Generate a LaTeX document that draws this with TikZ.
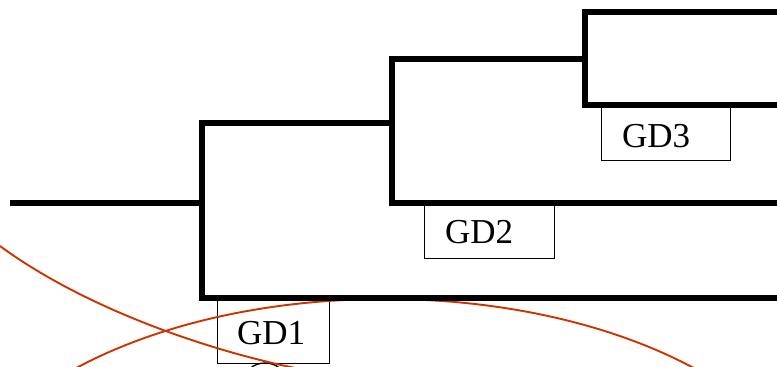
\documentclass[tikz,border=0pt]{standalone}
\usepackage{fontspec}
\setmainfont{Liberation Serif}
\definecolor{arcred}{RGB}{204,51,0}
\begin{document}
\begin{tikzpicture}[x=1pt,y=-1pt,
  branch/.style={line width=5.5pt, line join=miter},
  tag/.style={draw, line width=1.2pt, fill=white, anchor=north west, inner sep=0pt},
  tagtext/.style={anchor=base west, inner sep=0pt, font=\fontsize{35}{40}\selectfont},
  curve/.style={draw=arcred, line width=1.9pt}]
\useasboundingbox (0,0) rectangle (777,367);
\clip (0,0) rectangle (777,367);

% junction points of the tree
\coordinate (root) at (10,203);
\coordinate (j1) at (202,203);
\coordinate (j1t) at (202,123);
\coordinate (j1b) at (202,298);
\coordinate (e1b) at (780,298);
\coordinate (j2) at (392,123);
\coordinate (j2t) at (392,59);
\coordinate (j2b) at (392,203);
\coordinate (e2b) at (780,203);
\coordinate (j3) at (585,59);
\coordinate (j3t) at (585,12);
\coordinate (j3b) at (585,105);
\coordinate (e3t) at (780,12);
\coordinate (e3b) at (780,105);

% label boxes hanging under the lower branches
\node[tag, minimum width=112pt, minimum height=65pt] (gd1) at (217,298) {};
\node[tag, minimum width=130pt, minimum height=55pt] (gd2) at (424,203) {};
\node[tag, minimum width=129pt, minimum height=55pt] (gd3) at (601,105) {};
\node[tagtext] (gd1t) at ([shift={(20,46)}]gd1.north west) {GD1};
\node[tagtext] (gd2t) at ([shift={(21,40)}]gd2.north west) {GD2};
\node[tagtext] (gd3t) at ([shift={(21,42)}]gd3.north west) {GD3};

% small ring below GD1
\draw[line width=1.3pt] (265,381) ellipse [x radius=21, y radius=18];

% red arcs
\draw[curve] (385,539) ellipse [x radius=440, y radius=240];
\draw[curve] (0,246) .. controls (80,305) and (200,349) .. (300,369);

% the tree
\draw[branch] (root) -- (j1);
\draw[branch] (j2) -- (j1t) -- (j1b) -- (e1b);
\draw[branch] (j3) -- (j2t) -- (j2b) -- (e2b);
\draw[branch] (e3t) -- (j3t) -- (j3b) -- (e3b);
\end{tikzpicture}
\end{document}
